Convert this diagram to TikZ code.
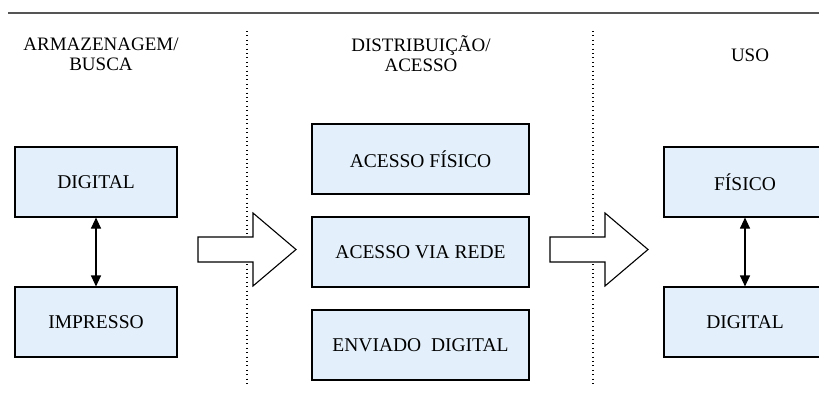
\documentclass[tikz,border=0pt]{standalone}
\usepackage{fontspec}
\setmainfont{Liberation Serif}
\usetikzlibrary{arrows.meta}
\definecolor{boxfill}{RGB}{227,240,251}
\definecolor{rulegray}{RGB}{85,85,85}
\tikzset{
  box/.style={draw=black, line width=1.1pt, fill=boxfill, minimum width=162pt,
    minimum height=70pt, inner sep=0pt, font=\fontsize{19.5}{22}\selectfont},
  head/.style={align=center, font=\fontsize{19}{20}\selectfont},
  sep/.style={line width=1.1pt, dash pattern=on 0.8pt off 3.6pt},
  link/.style={line width=1.1pt, {Triangle[length=11pt,width=10pt]}-{Triangle[length=11pt,width=10pt]}},
  bigarrow/.style={draw=black, line width=1.1pt, fill=white, line join=miter}
}
\begin{document}
\begin{tikzpicture}[x=1pt, y=-1pt]
\useasboundingbox (0,0) rectangle (819,394);
\clip (0,0) rectangle (819,394);

% rule across the top
\draw[rulegray, line width=2pt] (8,13) -- (819,13);

% column separators
\coordinate (s1a) at (247,31); \coordinate (s1b) at (247,386);
\coordinate (s2a) at (593,31); \coordinate (s2b) at (593,386);
\draw[sep] (s1a) -- (s1b);
\draw[sep] (s2a) -- (s2b);

% column headings
\node[head] (h1) at (101,54) {ARMAZENAGEM/\\BUSCA};
\node[head] (h2) at (421,54) {DISTRIBUIÇÃO/\\ACESSO};
\node[head] (h3) at (750,55) {USO};

% storage column
\node[box] (dig) at (96,182) {DIGITAL};
\node[box] (imp) at (96,322) {IMPRESSO};
\draw[link] (dig.south) -- (imp.north);

% distribution column
\node[box, minimum width=217pt] (af) at (420.5,159) {ACESSO FÍSICO};
\node[box, minimum width=217pt] (ar) at (420.5,252) {ACESSO VIA REDE};
\node[box, minimum width=217pt] (ed) at (420.5,345) {ENVIADO\ \ DIGITAL};

% use column
\node[box] (fis) at (745,182) {FÍSICO};
\node[box] (dg2) at (745,322) {DIGITAL};
\draw[link] (fis.south) -- (dg2.north);

% block arrows between columns
\draw[bigarrow] (198,237) -- (253,237) -- (253,213) -- (296,249.5)
  -- (253,286) -- (253,262) -- (198,262) -- cycle;
\draw[bigarrow] (550,237) -- (605,237) -- (605,213) -- (648,249.5)
  -- (605,286) -- (605,262) -- (550,262) -- cycle;
\end{tikzpicture}
\end{document}
